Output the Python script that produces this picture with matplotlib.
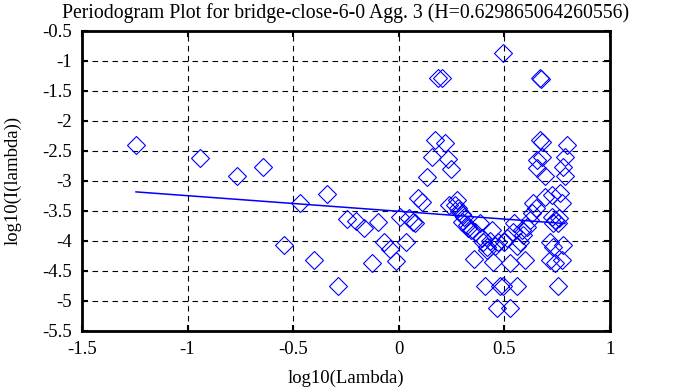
import matplotlib
matplotlib.use("Agg")
import matplotlib.pyplot as plt
import numpy as np

plt.rcParams['font.family'] = ['Liberation Serif', 'DejaVu Serif']
plt.rcParams['axes.unicode_minus'] = False

title = "Periodogram Plot for bridge-close-6-0 Agg. 3 (H=0.629865064260556)"
x_label = "log10(Lambda)"
y_label = "log10(I(lambda))"

hurst = 0.629865064260556
fit_intercept = -3.506

x_ticks = [-1.5, -1, -0.5, 0, 0.5, 1]
x_tick_labels = ["-1.5", "-1", "-0.5", "0", "0.5", "1"]
y_ticks = [-5.5, -5, -4.5, -4, -3.5, -3, -2.5, -2, -1.5, -1, -0.5]
y_tick_labels = ["-5.5", "-5", "-4.5", "-4", "-3.5", "-3", "-2.5", "-2", "-1.5", "-1", "-0.5"]

log_lambda = [
    -1.244, -0.941, -0.766, -0.643, -0.468, -0.340, -0.544, -0.401, -0.288, -0.245,
    -0.203, -0.165, -0.098, -0.127, -0.070, -0.042, -0.013, 0.006, 0.034, 0.048,
    0.067, 0.075, 0.090, 0.110, 0.134, 0.157, 0.171, 0.186, 0.205, 0.219,
    0.233, 0.247, 0.266, 0.275, 0.280, 0.285, 0.299, 0.323, 0.330, 0.361,
    0.384, 0.399, 0.418, 0.420, 0.441, 0.446, 0.470, 0.356, 0.408, 0.479,
    0.493, 0.560, 0.465, 0.527, 0.493, 0.500, 0.527, 0.541, 0.560, 0.574,
    0.598, 0.584, 0.607, 0.621, 0.631, 0.635, 0.650, 0.668, 0.672, 0.668,
    0.680, 0.678, 0.654, 0.654, 0.692, 0.692, 0.725, 0.763, 0.773, 0.796,
    0.787, 0.777, 0.787, 0.725, 0.740, 0.754, 0.730, 0.716, 0.730, 0.777,
    0.716, 0.740, 0.773, 0.754, 0.760, 0.310, 0.340, 0.395, 0.455, 0.515,
    0.545, 0.590, 0.240, 0.300, 0.430,
]
log_periodogram = [
    -2.400, -2.617, -2.917, -2.767, -3.367, -3.217, -4.067, -4.317, -4.750, -3.633,
    -3.667, -3.783, -3.683, -4.367, -4.017, -4.133, -4.333, -3.600, -4.017, -3.617,
    -3.683, -3.700, -3.280, -3.350, -2.930, -2.600, -2.317, -1.283, -1.283, -2.367,
    -2.633, -2.800, -3.400, -3.317, -3.450, -3.500, -3.683, -3.733, -3.780, -3.850,
    -3.700, -4.017, -4.100, -4.150, -3.817, -4.350, -4.017, -4.300, -4.750, -4.750,
    -4.750, -4.750, -5.117, -5.117, -0.867, -4.017, -4.367, -3.850, -4.083, -4.017,
    -4.317, -3.817, -3.767, -3.650, -3.533, -3.367, -3.450, -1.283, -1.300, -2.317,
    -2.350, -2.600, -2.650, -2.783, -2.917, -3.267, -3.233, -3.200, -3.367, -2.400,
    -2.600, -2.767, -2.917, -3.600, -3.650, -3.700, -3.700, -4.017, -4.100, -4.067,
    -4.317, -4.367, -4.317, -4.750, -3.620, -3.600, -3.820, -3.950, -4.080, -3.950,
    -3.700, -3.900, -3.400, -3.550, -4.000,
]

fig = plt.figure(figsize=(6.83, 3.87), dpi=100)
ax = fig.add_axes([0.12, 0.145, 0.773, 0.775])

xs = np.array(log_lambda)
ys = np.array(log_periodogram)
slope = 1 - 2 * hurst

ax.plot(xs, ys, linestyle='none', marker='D', markersize=9,
        markerfacecolor='none', markeredgecolor='#0000ff', markeredgewidth=0.8)
fit_x = np.array([xs.min(), 0.787])
ax.plot(fit_x, fit_intercept + slope * fit_x, color='#0000ff', linewidth=1.1)

ax.set_xlim(-1.5, 1)
ax.set_ylim(-5.5, -0.5)
ax.set_xticks(x_ticks)
ax.set_xticklabels(x_tick_labels)
ax.set_yticks(y_ticks)
ax.set_yticklabels(y_tick_labels)
ax.grid(True, color='black', linestyle=(0, (5, 4)), linewidth=0.8)
ax.tick_params(direction='in', length=4.5, width=1.5, top=True, right=True,
               labelsize=13.5)
ax.tick_params(axis='y', pad=7)
ax.tick_params(axis='x', pad=7)
for sp in ax.spines.values():
    sp.set_linewidth(2)
ax.set_title(title, fontsize=14.2, pad=9)
ax.set_xlabel(x_label, fontsize=13.5, labelpad=9)
ax.set_ylabel(y_label, fontsize=13.5, labelpad=15)

fig.savefig("out.png", dpi=100)
